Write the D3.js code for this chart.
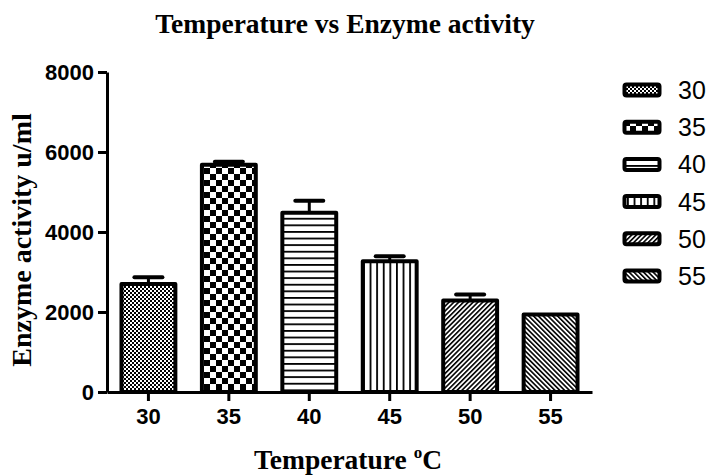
<!DOCTYPE html>
<html lang="en">
<head>
    <meta charset="UTF-8">
    <title>Temperature vs Enzyme activity</title>
    <script src="https://d3js.org/d3.v7.min.js"></script>
    <style>
        body { margin: 0; background: #fff; }
        .tick-label { font-family: Arial, "Liberation Sans", sans-serif; font-weight: bold; font-size: 22px; }
        .title, .axis-title { font-family: "Times New Roman", "Liberation Serif", serif; font-weight: bold; }
        .legend-label { font-family: Arial, "Liberation Sans", sans-serif; font-size: 25px; }
    </style>
</head>
<body>
    <div id="chart"></div>

    <script>
        // Data
        const temps = ["30", "35", "40", "45", "50", "55"];
        const activity = [2700, 5680, 4480, 3270, 2290, 1940];
        const errors = [170, 75, 300, 125, 145, 0];
        const yTicks = [0, 2000, 4000, 6000, 8000];
        const patterns = ["fineCheck", "bigCheck", "hLines", "vLines", "diagUp", "diagDown"];

        const W = 726, H = 476;
        const svg = d3.select("#chart").append("svg")
            .attr("width", W)
            .attr("height", H);

        // Fill patterns
        const defs = svg.append("defs");

        let p = defs.append("pattern").attr("id", "fineCheck")
            .attr("patternUnits", "userSpaceOnUse").attr("width", 4).attr("height", 4);
        p.append("rect").attr("width", 4).attr("height", 4).attr("fill", "#000");
        p.append("rect").attr("width", 2).attr("height", 2).attr("fill", "#fff");
        p.append("rect").attr("x", 2).attr("y", 2).attr("width", 2).attr("height", 2).attr("fill", "#fff");

        p = defs.append("pattern").attr("id", "bigCheck")
            .attr("patternUnits", "userSpaceOnUse").attr("width", 12).attr("height", 12);
        p.append("rect").attr("width", 12).attr("height", 12).attr("fill", "#fff");
        p.append("rect").attr("width", 6).attr("height", 6).attr("fill", "#000");
        p.append("rect").attr("x", 6).attr("y", 6).attr("width", 6).attr("height", 6).attr("fill", "#000");

        p = defs.append("pattern").attr("id", "hLines")
            .attr("patternUnits", "userSpaceOnUse").attr("width", 6.6).attr("height", 6.6);
        p.append("rect").attr("width", 6.6).attr("height", 6.6).attr("fill", "#fff");
        p.append("rect").attr("y", 0).attr("width", 6.6).attr("height", 1.8).attr("fill", "#000");

        p = defs.append("pattern").attr("id", "vLines")
            .attr("patternUnits", "userSpaceOnUse").attr("width", 6.6).attr("height", 6.6);
        p.append("rect").attr("width", 6.6).attr("height", 6.6).attr("fill", "#fff");
        p.append("rect").attr("x", 0).attr("width", 1.8).attr("height", 6.6).attr("fill", "#000");

        [["diagUp", 45], ["diagDown", -45]].forEach(([id, ang]) => {
            const d = defs.append("pattern").attr("id", id)
                .attr("patternUnits", "userSpaceOnUse").attr("width", 3.4).attr("height", 3.4)
                .attr("patternTransform", `rotate(${ang})`);
            d.append("rect").attr("width", 3.4).attr("height", 3.4).attr("fill", "#fff");
            d.append("rect").attr("width", 1.6).attr("height", 3.4).attr("fill", "#000");
        });

        // Scales
        const x = d3.scaleBand()
            .domain(temps)
            .range([107, 592])
            .paddingInner(0.33)
            .paddingOuter(0.18);

        const y = d3.scaleLinear()
            .domain([0, 8000])
            .range([392, 72]);

        // Bars
        svg.selectAll(".bar")
            .data(temps)
            .enter()
            .append("rect")
            .attr("class", "bar")
            .attr("x", d => x(d))
            .attr("width", x.bandwidth())
            .attr("y", (d, i) => y(activity[i]))
            .attr("height", (d, i) => y(0) - y(activity[i]))
            .attr("fill", (d, i) => `url(#${patterns[i]})`)
            .attr("stroke", "#000")
            .attr("stroke-width", 4)
            .attr("stroke-linejoin", "round");

        // Error bars (upper only)
        const errG = svg.append("g");
        temps.forEach((t, i) => {
            if (!errors[i]) return;
            const cx = x(t) + x.bandwidth() / 2;
            errG.append("line")
                .attr("x1", cx).attr("x2", cx)
                .attr("y1", y(activity[i])).attr("y2", y(activity[i] + errors[i]))
                .attr("stroke", "#000").attr("stroke-width", 3);
            errG.append("line")
                .attr("x1", cx - 14).attr("x2", cx + 14)
                .attr("y1", y(activity[i] + errors[i])).attr("y2", y(activity[i] + errors[i]))
                .attr("stroke", "#000").attr("stroke-width", 4).attr("stroke-linecap", "round");
        });

        // Axes
        const yAxis = svg.append("g")
            .attr("transform", "translate(107,0)")
            .call(d3.axisLeft(y).tickValues(yTicks).tickFormat(d3.format("d"))
                .tickSize(9).tickPadding(4).tickSizeOuter(0));
        yAxis.select(".domain").attr("stroke-width", 3);
        yAxis.selectAll(".tick line").attr("stroke-width", 3);
        yAxis.selectAll(".tick text").attr("class", "tick-label").attr("fill", "#000").attr("dy", "0.36em");

        const xAxis = svg.append("g")
            .attr("transform", "translate(0,392)")
            .call(d3.axisBottom(x).tickSize(9).tickPadding(7).tickSizeOuter(0));
        xAxis.select(".domain").attr("stroke-width", 3);
        xAxis.selectAll(".tick line").attr("stroke-width", 3);
        xAxis.selectAll(".tick text").attr("class", "tick-label").attr("fill", "#000");

        // Titles
        svg.append("text")
            .attr("class", "title")
            .attr("x", 345).attr("y", 33)
            .attr("text-anchor", "middle")
            .style("font-size", "27.5px")
            .text("Temperature vs Enzyme activity");

        const xt = svg.append("text")
            .attr("class", "axis-title")
            .attr("x", 348).attr("y", 469)
            .attr("text-anchor", "middle")
            .style("font-size", "27.5px");
        xt.append("tspan").text("Temperature ");
        xt.append("tspan").attr("dy", -11).style("font-size", "17px").text("o");
        xt.append("tspan").attr("dy", 11).text("C");

        svg.append("text")
            .attr("class", "axis-title")
            .attr("transform", "translate(31,240) rotate(-90)")
            .attr("text-anchor", "middle")
            .style("font-size", "28px")
            .text("Enzyme activity u/ml");

        // Legend
        const legend = svg.append("g");
        const rowY = d3.scalePoint().domain(temps).range([90, 276]);
        temps.forEach((t, i) => {
            const cy = rowY(t);
            legend.append("rect")
                .attr("x", 624.5).attr("y", cy - 5.5)
                .attr("width", 35).attr("height", 11)
                .attr("rx", 2)
                .attr("fill", `url(#${patterns[i]})`)
                .attr("stroke", "#000").attr("stroke-width", 4);
            legend.append("text")
                .attr("class", "legend-label")
                .attr("x", 678).attr("y", cy + 9)
                .text(t);
        });
    </script>
</body>
</html>
